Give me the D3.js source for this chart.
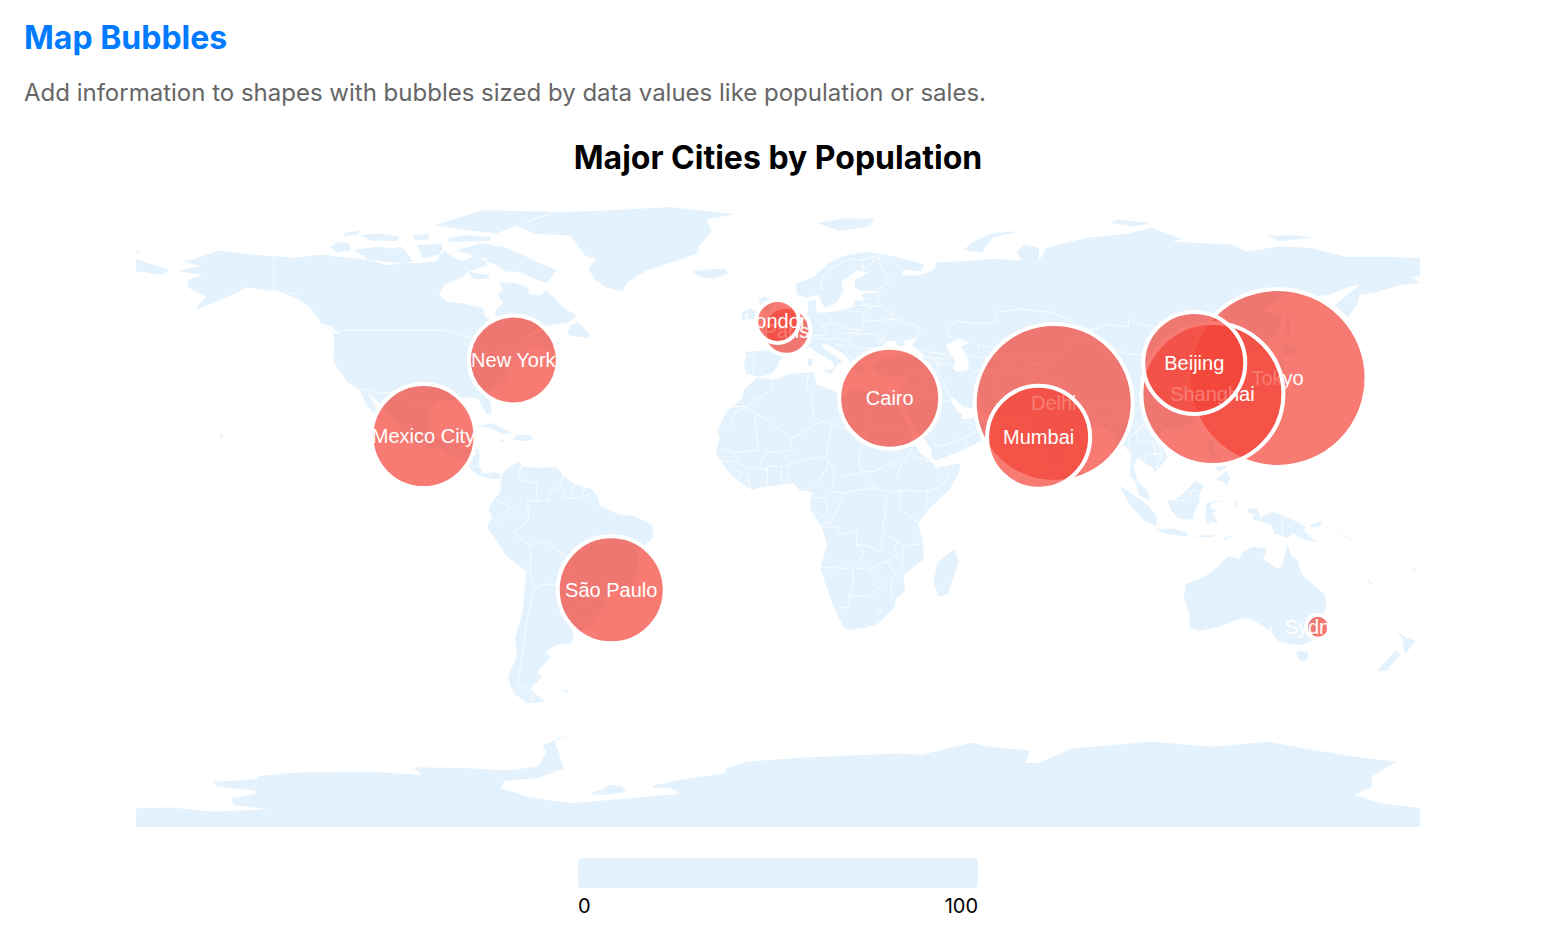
<!DOCTYPE html>
<html>
<head>
<meta charset="utf-8">
<title>Map Bubbles</title>
<script src="https://cdn.jsdelivr.net/npm/d3@7"></script>
<style>
  html, body { margin: 0; background: #fff; }
  text { font-family: Inter, sans-serif; }
</style>
</head>
<body>
<svg id="chart" width="1552" height="930"></svg>
<script>
// cities, drawn in this order so later bubbles sit on top of earlier labels
const cities = ["Tokyo", "Delhi", "Shanghai", "São Paulo", "Mexico City", "Cairo", "Mumbai", "Beijing", "New York", "Paris", "London", "Sydney"];
const cityLon = [139.69, 77.1, 121.47, -46.63, -99.13, 31.24, 72.88, 116.4, -74.0, 2.35, -0.13, 151.0];
const cityLat = [35.69, 28.7, 31.23, -23.55, 19.43, 30.04, 19.08, 39.9, 40.71, 48.86, 51.51, -33.87];
const population = [35.6, 31.6, 28.4, 21.4, 20.8, 20.2, 20.6, 20.4, 17.8, 9.6, 8.6, 4.8];
const legendLabels = [0, 100];

// coast outlines, [lon, lat]
const northAmerica = [[-168,65.6],[-164,66.5],[-162,67],[-166,68.3],[-163,69],[-156.5,71.3],[-150,70.5],[-141,69.7],[-135,69.3],[-128,70.2],[-124,69.7],[-115,68.8],[-108,68],[-102,67.8],[-96,68.2],[-95,69],[-94,71.8],[-91,69.5],[-88,68.3],[-85.5,69.7],[-81.5,69],[-81.5,67],[-87,65.3],[-88,64],[-93,61.8],[-94.8,59],[-92.5,57],[-88,56.5],[-82.5,55.2],[-82,53],[-80,51.3],[-79,51.8],[-79,54.7],[-76.8,56.5],[-78.3,58.8],[-77,60.5],[-78,62.4],[-73.5,62.3],[-70,61],[-69.5,59],[-66.5,58.8],[-64.8,60.3],[-62,57.5],[-60,55.3],[-56,53],[-58.5,51.3],[-65,50.2],[-68,48.8],[-71,46.8],[-65,49],[-65,47.5],[-61,45.5],[-65.5,43.6],[-66,45],[-67,45],[-70,43.7],[-70.8,42],[-74,40.6],[-75.5,38],[-76,35],[-78,33.8],[-81,31.8],[-80,26.8],[-80.4,25.2],[-81.8,26],[-82.8,28],[-84,30],[-88,30.3],[-90,29.2],[-94,29.6],[-97.3,27.5],[-97.7,22.5],[-95.5,18.8],[-92,18.6],[-90.5,21],[-87,21.5],[-88,18.5],[-88.8,15.9],[-84,15.9],[-83.4,14.9],[-83.7,11],[-82,9],[-79.5,9.5],[-77.3,8.7],[-78,7.3],[-80,7.5],[-81.5,7.8],[-83.5,8.3],[-85.8,10],[-87.5,13],[-91.5,14],[-94.5,16.2],[-97,15.9],[-101.5,17.5],[-105.5,20],[-105.5,22.5],[-109,26],[-112.8,30],[-114.7,31.7],[-112.5,27.5],[-111,25],[-109.5,23],[-112,25],[-115,28],[-117.1,32.5],[-120.5,34.5],[-122.5,37.5],[-124.3,40.3],[-124,46.2],[-124.7,48.4],[-122.5,48],[-125,50.3],[-127.8,51],[-130,54.3],[-133,57],[-136,58.5],[-140,59.8],[-146,60.7],[-149,61],[-151.5,59.3],[-152,59],[-154,58.5],[-158,56.5],[-163,54.8],[-160,58.5],[-162,59.5],[-165,61],[-165,63],[-161,64.5]];
const southAmerica = [[-77.3,8.7],[-75,11],[-72,12.2],[-71.5,10.9],[-68,10.6],[-62,10.7],[-60,8.4],[-57,6],[-52,4.5],[-50,1.7],[-50,0],[-44.5,-2.5],[-40,-3],[-35,-5.5],[-35,-9],[-39,-13],[-39,-18],[-41,-22],[-44.5,-23.2],[-48.5,-26],[-48.7,-28.5],[-53,-33.5],[-55,-35],[-58,-34],[-57,-36.5],[-58,-38.5],[-62,-39],[-65,-41],[-63.5,-42.5],[-66,-45],[-67.5,-46.5],[-66,-48],[-69,-51],[-68,-52.5],[-65,-54.8],[-70,-55.3],[-74,-52.5],[-75.5,-48],[-73,-42],[-73.5,-37],[-71.5,-30],[-70.3,-18.5],[-76,-14],[-81.3,-6],[-80,-3],[-81,-1],[-80,1],[-77.5,4],[-77.5,7]];
const africa = [[-5.9,35.8],[-1,35.2],[3,36.8],[10,37.3],[11,33.2],[10.5,34],[15,32.3],[19,30.3],[20,32.8],[25,31.6],[32,31.2],[34.2,31.3],[32.6,29.9],[34,26.5],[37,21],[37.5,18.5],[39.5,15],[43.2,12],[44,10.5],[51.2,11.9],[50.5,9],[48,4.5],[42,-1],[39.2,-5],[40.5,-10.5],[40.8,-15],[35,-19.5],[35.5,-24],[33,-26],[32.5,-28.5],[28,-33],[25,-34],[20,-34.8],[18.3,-34],[15,-27],[11.8,-17.5],[13.7,-11],[12.2,-6],[9,-1],[9.5,3.8],[6,4.3],[4.5,6.3],[1,5.9],[-4,5.2],[-7.6,4.4],[-13,8.5],[-15,11],[-17.3,14.7],[-16.3,19],[-17,21],[-14.5,26],[-10,30],[-9.5,32.5]];
const eurasia = [[-9,37],[-9.5,38.8],[-9,43],[-2,43.5],[-1.2,46],[-4.5,48.3],[-1.5,48.7],[-1.5,49.7],[1.5,50.5],[4,52],[8.5,54],[8.2,57],[10.5,57.7],[10.5,54.5],[11,54],[14,54],[18.5,54.7],[21,55.5],[21.5,57.5],[24,57.2],[23.5,59.2],[30,60],[23,60],[21.5,61],[21.5,63],[25.3,65.2],[22,65.8],[17.5,62.5],[18.5,60],[16.5,57],[14,55.5],[12.8,55.5],[11.2,59],[8,58],[5.3,59],[5,62],[10,64],[14.5,68],[19,70],[25,71],[31,70],[41,67.5],[40,65.5],[35,66],[34.8,64.5],[38,64.2],[40.5,64.7],[44,66.2],[44,68],[54,68.5],[60,69],[68,68.5],[66.8,71],[69,73],[73,72],[73,68.5],[75,72],[80.5,73.5],[87,75],[98,76],[104.5,77.7],[113,74.5],[110,73.8],[127,73],[131,71],[140,72.5],[149,72],[159,69.5],[170,69.6],[180,69.2],[180,64],[177,64],[179.5,62.3],[174,61.7],[167.5,59.7],[162.7,58.9],[161.8,56],[159.4,52.7],[155.7,56],[162.7,61.7],[159,61],[154.3,58.9],[151,58.6],[142.5,59.3],[135.5,54.7],[141,53],[140,48],[135,43.5],[131,42.8],[129.5,41],[127.5,39.7],[129.3,37],[129,35.2],[126.5,34.5],[126.5,37.7],[125,38.5],[124.5,39.8],[121.5,39],[121.5,40.8],[118,39],[119,37.5],[122.5,37],[119.5,35],[121.8,31.5],[121.5,28.5],[117,23.5],[110.5,21],[108,21.5],[106,19],[109,13.5],[106.5,10.5],[105,8.8],[105,10.3],[100.5,13.5],[99.5,11],[100.5,7],[103.4,4],[104,1.3],[101,3],[100,6.5],[98.3,8.5],[98.6,14],[97,16.8],[94.5,16],[94.5,18.5],[92,21.5],[90,22],[87,21.5],[85,19.5],[80.3,15.5],[80,12],[77.5,8],[74.8,12.5],[72.8,20],[70,21],[69,22.3],[67,24.8],[61.5,25.2],[57.5,25.7],[56.5,27],[52,27.5],[48.8,30.3],[48,29.5],[50.2,26.5],[51.5,25.3],[51.3,24.2],[54,24.2],[56.3,26.2],[56.8,24],[59.8,22.5],[57.8,19],[55,17],[52,15.7],[45,12.8],[43.3,12.7],[42.8,16],[39,21],[35,28],[34.3,31.3],[36,36],[32.5,36],[28,36.5],[26.5,39],[29,41],[35,42],[41.5,41.5],[37.5,44.7],[39,47],[35,46],[36,45],[33.5,44.5],[33,46],[30.5,46],[28,43],[28,41.5],[26,40.8],[23,40.3],[24,38],[22.5,36.5],[21,38.5],[19.5,41],[19,42],[14,45],[12.3,45.3],[12.5,44],[16,41.8],[18.5,40],[16.5,39.7],[16,38],[15.5,40],[10.5,43],[8.8,44.4],[6,43],[3.2,43],[0,40],[-0.3,38.7],[-2,36.7],[-5.5,36]];
const australia = [[114,-22],[113.5,-26],[115,-30],[115,-34.3],[118,-35],[123.5,-33.9],[129,-31.7],[131.5,-31.5],[134.5,-33],[137.5,-35.1],[138,-33],[138,-35.5],[140,-38],[143.5,-38.8],[146.5,-39],[150,-37.5],[151.5,-33],[153.3,-28],[153,-25],[149.5,-22],[146.3,-19],[145.3,-15],[143.5,-14],[142.5,-10.8],[141.7,-13.5],[141,-17],[139.5,-17.5],[135.7,-15],[136.8,-12],[132.5,-11.5],[130,-13],[129,-15],[126,-14],[122,-18],[119,-20]];
const antarctica = [[-180,-90],[-179.6,-84.6],[-169.6,-84.4],[-157.9,-85.6],[-142.8,-84.9],[-152,-83.7],[-153,-81.8],[-146,-80.6],[-146.2,-79.7],[-156.7,-78.6],[-157.9,-77.3],[-146.2,-76.5],[-145,-75.6],[-134.6,-74.6],[-113.6,-74.4],[-99.6,-75.3],[-102,-73.2],[-88,-73.3],[-76.3,-74.1],[-67,-73],[-64.7,-68.8],[-65.9,-67],[-57.7,-63.7],[-62.4,-66],[-61.2,-69.3],[-60,-73.5],[-67,-76.2],[-76.3,-76.9],[-77.5,-79],[-69.4,-81.6],[-57.7,-83.2],[-41.4,-81.8],[-27.4,-80.6],[-29.7,-79],[-34.9,-79],[-34.4,-78.1],[-27.4,-76.7],[-14.6,-74.8],[-14.6,-73.5],[-8.8,-71.6],[8.7,-70.4],[33.2,-69.3],[40.2,-69.7],[54.1,-66.3],[58.8,-67.4],[70.4,-68.5],[69.3,-72],[72.8,-72],[82.1,-67.9],[104.2,-66],[121.7,-67.4],[136.9,-66],[147.3,-67.9],[161.3,-70.2],[173,-71.6],[166,-75.8],[166,-78.6],[161.3,-80.9],[168.3,-83.2],[180,-84.6],[180,-90]];
const islands = [
  [[-73,78.2],[-68,76],[-58,75.5],[-54,70],[-51,69],[-53,66],[-51,63],[-48,61],[-43.5,60],[-42,62.5],[-37,65.7],[-30,68],[-22.5,70.5],[-22,72.5],[-20,75],[-18.5,77],[-20,80],[-12,81.5],[-30,83.5],[-48,82.5],[-62,82],[-68,80.5]],
  [[-89.9,71.4],[-83.3,73.3],[-76.8,72.4],[-71.2,70],[-68.4,68.6],[-61.9,65.8],[-64.7,62.1],[-68.4,63.5],[-72.2,65.4],[-75.9,65.4],[-79.6,67.7],[-84.3,69.6]],
  [[-95.9,78.4],[-91.7,79.8],[-82.4,82.6],[-61.9,82.1],[-73,78.4],[-78.7,76.1],[-87,77]],
  [[-118.8,71.4],[-112.2,72.4],[-107.6,71.9],[-105.2,72.4],[-102,68.2],[-109.4,67.2],[-115,68.8],[-116,70]],
  [[-125.3,72.4],[-122.9,73.7],[-119.7,73.3],[-119.7,71.4],[-123.4,70.7]],
  [[-92.7,74.7],[-88,75.6],[-80.1,75.1],[-80.6,74],[-91.7,73.7]],
  [[-101,72.8],[-94,73.3],[-93.6,70.5],[-99.2,69.1]],
  [[-116.9,75.6],[-111.3,76.1],[-105.7,75.1],[-106.6,74],[-114.1,74.2]],
  [[-122,76.1],[-116.4,77],[-117.8,75.6],[-121,75.4]],
  [[-102,75.6],[-97.3,76.1],[-97.8,74.4],[-101.5,74.2]],
  [[-87,65.5],[-81,64.5],[-80.5,63.5],[-85,63.2]],
  [[-59,47.7],[-53,46.8],[-52.8,48],[-56,51.5],[-58,50.5]],
  [[-85,21.9],[-80,23.1],[-74.2,20.2],[-77.5,19.9],[-78,20.7],[-82,22.2]],
  [[-74.4,18.5],[-73,19.9],[-69,19.7],[-68.4,18.5],[-71,18]],
  [[-78.3,18.4],[-76.3,18.2],[-77,17.8]],
  [[-67.2,18.5],[-65.7,18.4],[-66.5,18]],
  [[-128,50.7],[-123.5,48.4],[-125,48.8]],
  [[-156,20.2],[-155,19.6],[-155.8,19]],
  [[-61,-51.8],[-58,-51.4],[-59,-52.2]],
  [[49.3,-12],[50.5,-15.5],[47.5,-24.8],[45,-25.5],[43.5,-22],[44.5,-16]],
  [[-5.5,50],[1.3,51.2],[1.7,52.8],[-1.5,55],[-2,57.6],[-4,58.5],[-5.5,57.5],[-4.5,55],[-3,53.5],[-5,52],[-3,51.3]],
  [[-10,52],[-6,52.2],[-6,54.5],[-8,55.2],[-10,54]],
  [[-24,65.5],[-22,64],[-18,63.4],[-14,64.8],[-15,66.3],[-20,66]],
  [[11,79],[17,76.8],[25,78],[27,80.2],[18,80.3]],
  [[52,71.5],[57,70.7],[60,75],[68,76.8],[60,76.2],[54,73.5]],
  [[95,80],[104,79],[100,78],[93,79]],
  [[137,75.5],[145,75.5],[150,75],[140,74]],
  [[-180,71.5],[-178,71],[-180,70.9]],
  [[180,71.5],[178.5,71],[180,70.9]],
  [[-180,69],[-175,67.5],[-170,66],[-172.5,64.5],[-178,65.5],[-180,65]],
  [[142.5,54.3],[143.5,49.5],[142.7,46.5],[142,50]],
  [[141,41.4],[142,39.5],[140.8,35.7],[137,34.6],[135,33.6],[132,34],[131,34.5],[133,35.5],[136,36],[137,37.3],[139.8,38.7],[140,40.5]],
  [[141.7,45.4],[145.4,43.5],[143,42],[140.3,42],[141.5,43.5]],
  [[130,33.5],[131.8,33],[131,31],[130.2,31.5]],
  [[121,25],[122,24.5],[120.8,22],[120.1,23]],
  [[108.7,19.3],[110.5,20],[111,19.5],[109.5,18.2]],
  [[80,9.8],[82,7.5],[80.5,6],[79.8,8]],
  [[12.5,38],[15.6,38.2],[15.1,36.7]],
  [[8.2,41],[9.7,41],[9.5,39.1],[8.5,39]],
  [[32.3,35],[34.5,35.6],[33.5,34.7]],
  [[95.3,5.6],[98,4],[103,0.5],[106,-3],[105.8,-5.8],[102.3,-4],[98.5,0]],
  [[105.3,-6.5],[108.5,-6.6],[111,-6.5],[114.5,-7.7],[114.5,-8.7],[108,-7.8]],
  [[109,1.5],[111,1.7],[113,3.2],[116.8,7],[119.2,5.2],[117.8,3.5],[117.8,1],[116.5,-1.5],[116,-4],[111.8,-3.5],[110,-1.5]],
  [[119.8,0.8],[124.8,1.5],[121,0.5],[121,-1],[123,-1],[121.5,-2],[123,-5],[121,-4.5],[120.3,-5.5],[119.5,-3.5]],
  [[120.5,18.5],[122.2,18.3],[122,16],[124,13],[121,13.7],[120,16]],
  [[122,7],[125.5,9.7],[126.5,7.5],[125.5,5.7],[124,7]],
  [[122,11.8],[125,12.5],[125.3,10.5],[123,9.5]],
  [[131,-0.8],[134,-0.8],[135,-3.3],[138,-1.7],[141,-2.6],[145,-4.5],[147.5,-6],[147,-7],[150.8,-10.3],[147,-9.5],[144,-7.7],[142.5,-9.2],[138.7,-7.7],[138,-5.5],[135,-4.3],[133,-4],[132.8,-2.8],[134,-2.3],[132,-2.3]],
  [[124,-10],[127,-8.5],[125,-8.8]],
  [[116,-8.5],[119,-8.3],[123,-8.3],[120,-8.9]],
  [[127.5,1.8],[128.5,0],[128,-0.8]],
  [[148.5,-5.6],[152,-4.2],[152,-5.5],[150,-6.2]],
  [[155,-6.5],[156,-7],[160.5,-9.5],[161.5,-10.5]],
  [[178,-17.5],[178.7,-18],[177.3,-18.2]],
  [[164,-20.2],[167,-22.3],[165.5,-21.8]],
  [[144.7,-40.7],[148.3,-40.8],[148,-43],[146,-43.5],[145.3,-42]],
  [[172.7,-34.5],[175.5,-37],[178.3,-37.7],[177,-39.5],[175.3,-41.6],[174.8,-39],[174.7,-37.3]],
  [[172.7,-40.6],[174.2,-41.7],[171,-45],[170.5,-46],[167.5,-46.3],[170,-43.5]],
  [[-53,-80.6],[-49.5,-79.5],[-47.2,-78.1],[-43.7,-78.4],[-42.5,-80],[-48.3,-80.9]]
];
// inland water, cut out with evenodd
const lakes = [
  [[47,45],[51,46.8],[53.5,45.5],[51,44.5],[53,41.5],[53.5,38],[50,37.3],[49,38.5],[49.5,40.5],[47.7,43]]
];
const borderLines = [
  [[-123,49],[-95,49],[-95,49.4],[-89.5,48],[-84.5,46.5],[-82.5,45],[-82.5,42.5],[-79,43],[-76.5,44],[-74.7,45],[-71,45.2],[-69.2,47.4],[-67.8,47],[-67,45]],
  [[-141,69.7],[-141,60.3],[-137.5,59],[-135,59.5],[-133,56.5],[-130,55]],
  [[-117.1,32.5],[-114.8,32.5],[-111,31.3],[-106.5,31.8],[-103,29],[-101,29.8],[-97.2,25.9]],
  [[-92.2,14.6],[-91,17],[-89.2,17.8],[-88.3,18.5]],
  [[-89.2,17.8],[-89.2,15.9]],
  [[-88.6,15.7],[-89.4,14.4],[-90,13.8]],
  [[-83.2,15],[-86,13.9],[-87.4,13]],
  [[-85.7,11.1],[-83.7,10.9]],
  [[-83,8.3],[-82.6,9.6]],
  [[-77.3,8.7],[-77.9,7.2]],
  [[-71.5,11.8],[-72.5,9],[-72,7],[-67.5,6.2],[-67.5,3],[-67,1.2],[-70,1.5],[-69.8,-4.2]],
  [[-78.8,1.4],[-75.3,0],[-72,-2.4],[-69.9,-4.2]],
  [[-80.2,-3.5],[-78.5,-5],[-75.3,-1.5],[-75.3,0]],
  [[-60,8.5],[-61,5],[-60,5.2]],
  [[-67,1.2],[-64,1.5],[-64,4],[-60.8,5]],
  [[-60,5.2],[-59.8,2],[-57,2]],
  [[-57,6],[-58,2]],
  [[-54,5.8],[-54.5,2.3]],
  [[-58,2],[-54.5,2.3],[-52,3.5]],
  [[-69.9,-4.2],[-73,-7],[-74,-7.5],[-71,-10],[-69.5,-11]],
  [[-69.5,-11],[-65.3,-10],[-60,-13.5],[-58,-16.5],[-58,-20]],
  [[-69.5,-11],[-69,-15.5],[-69.5,-17.5],[-68,-23]],
  [[-68,-23],[-65,-22],[-62.6,-22],[-58,-20]],
  [[-62.6,-22],[-58,-25],[-55,-27.2]],
  [[-58,-20],[-58,-22],[-55.5,-24],[-54.5,-25.5]],
  [[-54.5,-25.5],[-53.7,-27],[-57.6,-30.2]],
  [[-57.6,-30.2],[-53.4,-33.7]],
  [[-57.6,-30.2],[-58.4,-34]],
  [[-68,-23],[-70,-31],[-71,-38],[-72,-45],[-73,-50],[-69,-52],[-68.6,-55]],
  [[-2,35],[-1.5,32.5],[-8.7,28],[-8.7,27.3]],
  [[-13,27.7],[-8.7,27.7]],
  [[-8.7,27.3],[-12,26],[-13,23],[-17,21]],
  [[-8.7,27.3],[-4.8,25],[-6.5,25],[-5.5,15.5],[-12,15],[-16.5,16]],
  [[-4.8,25],[1,21],[3.3,19],[4.2,19],[12,23.5]],
  [[8.5,37],[8,33],[9.5,30.2],[10,25],[12,23.5],[15,23],[24,19.5],[25,20],[25,22]],
  [[25,31.6],[25,22],[36.8,22]],
  [[24,19.5],[22.5,13],[23.5,9]],
  [[15,23],[13.5,14]],
  [[3.6,11.7],[8,13],[13.5,13.7]],
  [[3.3,19],[4,15.5],[1,15],[3.6,11.7]],
  [[1,15],[-3,15],[-5.5,10.5]],
  [[-3,11],[1,11],[3,11.7]],
  [[-3,11],[-3,5.2]],
  [[1,11],[1,6]],
  [[3,11.7],[2.7,6.4]],
  [[8.5,4.5],[11,6.5],[13.5,10.5],[14,13]],
  [[14,13],[15.5,9.5],[15.5,7.5],[18.5,8.5],[23.5,9]],
  [[23.5,9],[27.5,5],[22,4.3],[18.5,3.5],[15,4],[15.5,7.5]],
  [[9.8,2.2],[13.3,2.2],[14,-2],[11.5,-3.7]],
  [[18.5,3.5],[16.5,-1],[15,-4.5],[12.2,-5]],
  [[38.5,18],[36.5,14.3],[34,10.5],[33,8]],
  [[23.5,9.5],[27,9.5],[32,12],[34,10]],
  [[27.5,5],[31,3.7],[34,4.2],[36,4.4]],
  [[34,4.2],[41,4],[42,4.2]],
  [[43.2,11.5],[48,8],[45,5],[42,4.2],[41,-1.7]],
  [[36.5,14.3],[43,12.3]],
  [[34,4.2],[34,-1],[39.3,-4.7]],
  [[31,3.7],[29.5,-1.3]],
  [[30.5,-1],[29.5,-4.5],[29.3,-8],[33,-9.5],[34.7,-11.5],[40.5,-10.5]],
  [[12.2,-6],[16.5,-6],[17.5,-8],[22,-7],[22,-11],[24,-11],[27,-12],[29,-13],[29,-9]],
  [[22,-11],[24,-13],[22,-16.5]],
  [[11.8,-17.3],[18.5,-17.5],[24,-17.5]],
  [[21,-18],[21,-22],[20,-24.5],[20,-28.5],[16.5,-28.6]],
  [[20,-25],[25,-25.5],[29.3,-22.3],[25.2,-17.8],[30.4,-15.7]],
  [[30.4,-15.7],[33,-19],[31.5,-22.3],[32,-26.5]],
  [[33,-9.5],[33,-14],[35,-17],[35,-11.5]],
  [[30.4,-15.7],[33,-14]],
  [[27.5,-29.5],[29,-29],[28.5,-30.5],[27.2,-30.2],[27.5,-29.5]],
  [[-16.7,12.4],[-11.5,12.4],[-12,15]],
  [[-13,9],[-10.8,10],[-10.3,8.5],[-11.5,7]],
  [[-8.5,7.5],[-7.5,4.4]],
  [[-11.5,12.4],[-8,10],[-8.5,7.5]],
  [[-8,10.3],[-5.5,10.5],[-3,10]],
  [[-8.8,42],[-6.5,41.5],[-7,37.2]],
  [[-1.8,43.4],[3,42.4]],
  [[2.5,51],[6,49.5],[8,49],[7.5,47.6],[6,46.3],[7.5,43.8]],
  [[7,53.3],[6,50.8],[6,49.5]],
  [[8.7,54.9],[9.8,54.8]],
  [[14.2,53.9],[15,51],[12.2,50.3]],
  [[7.5,47.6],[13,47.5],[13.8,48.7],[12.2,50.3]],
  [[15,51],[19,49.5],[22.8,49]],
  [[23.5,54],[24,50.5],[22.8,49]],
  [[19.5,54.4],[23,54.3]],
  [[7.5,43.8],[7,46],[10.5,47],[13.7,46.5],[13.7,45.6]],
  [[13.7,46.5],[16.5,46.7],[17,48],[19,48],[22.8,48.5]],
  [[16.5,46.7],[19,46],[22,47.8],[26.5,48.2],[29.7,45.3]],
  [[22.5,44.2],[28.5,43.8]],
  [[19,46],[22.5,44.2],[22.5,41.5]],
  [[20.5,40],[26.5,41.5],[28,42]],
  [[22.8,41.3],[28,42]],
  [[16,45],[19,44.8],[19,42.5]],
  [[19.5,42.5],[20.5,41],[20.2,39.7]],
  [[24,51.5],[31,52],[34,52],[40,49.6],[38.5,47.2]],
  [[23.5,53.5],[26,55.5],[28.5,56],[32.5,53.3],[31,52]],
  [[21,56],[26,56],[28,56],[28,59.5]],
  [[24.5,57.9],[27.5,57.5]],
  [[26.5,48.2],[29,47.5],[30,46],[28.2,45.5]],
  [[23.5,65.8],[29,70],[28,69],[30,65],[31.5,62.8],[28,60.5]],
  [[12.3,60],[12,63],[15,66.5],[20,69],[23.5,68.7],[28,70]],
  [[24,66],[23.5,68.7]],
  [[36,36.2],[42,37],[44.7,37.2],[44.5,39.7],[43.5,41.2],[41.5,41.5]],
  [[42,37],[41,34.3],[39,32.5]],
  [[35.8,32.7],[39,32.5],[37,31.5],[35,29.5]],
  [[39,32.5],[44,29.2],[46.5,29],[48,29.5]],
  [[44.7,37.2],[46,35.5],[47.7,31],[48.5,30]],
  [[43,16.6],[47,17],[52,19],[55,20],[56,22.5],[52,23.5]],
  [[52,19],[53,16.7]],
  [[40,43.5],[48.5,41.8]],
  [[41.5,41.5],[46,41],[44.5,39.7],[48,39.5],[49,38.3]],
  [[54,37.3],[57,38],[61,36.5],[61,31.5],[63,27],[61.5,25.2]],
  [[47.5,50],[50,51.5],[55,51],[61,51],[61,54],[68,55],[71,54.5],[77,54],[83,51],[87.5,49]],
  [[47.5,50],[47,48.2],[49,46.5]],
  [[53,42],[56,41.3],[56,45],[61,44],[66,41],[70,42],[71,42.8],[80,42.8],[80.5,45],[85.5,47],[87.5,49]],
  [[56,41.3],[61,41.5],[66,38]],
  [[61,36.5],[66,37.3],[71,38],[74.9,37.3]],
  [[61,29.5],[66,29.8],[70,33],[71.5,36],[74.9,37.3]],
  [[70,42],[71,40],[73.5,39.5],[80,42]],
  [[68,39],[73.5,39.5],[74.9,37.3]],
  [[74.9,37.3],[78,35],[79,32],[81,30],[88,28],[92,28],[97,28],[98.7,25],[97.5,23.5],[101,21.5],[102,22.5],[106,22.8],[108,21.6]],
  [[74.9,34],[75,31],[70,27],[71,24.5],[68.2,23.7]],
  [[81,30],[80,28.8],[88,26.5],[88,28]],
  [[88.2,26],[89,22]],
  [[89,25],[92,25],[92.5,21]],
  [[97,28],[94,24],[92.5,21]],
  [[101,21.5],[98,19],[98.6,14],[99,10.5]],
  [[100,20],[102,22.5],[104.5,20],[107,16],[107,14.5],[105.5,14.3],[105,18],[101,18],[100,20]],
  [[102.5,12],[103,14.3],[107.5,14.5],[106,11],[104.5,10.4]],
  [[100.2,6.5],[102,6.2]],
  [[87.5,49],[92,50.7],[98,50],[98,52],[103,50.3],[107,49.7],[114,50],[119,49.8],[116,48],[112,45],[105,42],[97,42.5],[91,45],[87.5,49]],
  [[119,49.8],[120,53.3],[125,53],[130,49],[135,48.4],[131,45],[131,42.8]],
  [[124.5,39.9],[128,41.5],[130.5,42.5]],
  [[125,38],[128.3,38.6]],
  [[109.7,1.9],[114,1.2],[116,4.2],[117.7,4.2]],
  [[141,-2.6],[141,-9.1]]
];

const svg = d3.select("#chart");

svg.append("text").attr("x", 24).attr("y", 49).attr("font-size", 32).attr("font-weight", 700)
    .attr("fill", "#007bff").text("Map Bubbles");
svg.append("text").attr("x", 24).attr("y", 101).attr("font-size", 24).attr("fill", "#666")
    .text("Add information to shapes with bubbles sized by data values like population or sales.");
svg.append("text").attr("x", 778).attr("y", 169).attr("text-anchor", "middle").attr("font-size", 32)
    .attr("font-weight", 700).attr("fill", "#000").text("Major Cities by Population");

const projection = d3.geoEquirectangular().scale(204.9).translate([778, 505.6]);
// planar pass so ring winding does not matter
const flat = d3.geoTransform({
    point(x, y) {
        const p = projection([x, y]);
        this.stream.point(p[0], p[1]);
    }
});
const path = d3.geoPath(flat);
const radius = d3.scaleLinear().domain([0, 40]).range([0, 100]);

const rings = [northAmerica, southAmerica, africa, eurasia, australia, antarctica].concat(islands, lakes);

svg.append("clipPath").attr("id", "map-clip").append("rect")
    .attr("x", 136).attr("y", 200).attr("width", 1284).attr("height", 627);

const map = svg.append("g").attr("clip-path", "url(#map-clip)");
map.append("path")
    .datum({type: "MultiPolygon", coordinates: rings.map(r => [r.concat([r[0]])])})
    .attr("d", path)
    .attr("fill", "#e3f2fd")
    .attr("fill-rule", "evenodd");
map.append("path")
    .datum({type: "MultiLineString", coordinates: borderLines})
    .attr("d", path)
    .attr("fill", "none")
    .attr("stroke", "#fff")
    .attr("stroke-width", 0.8);

// one group per city: the circle and its label share the stacking order
const bubbles = svg.selectAll("g.city")
    .data(cities.map((name, i) => ({name, lon: cityLon[i], lat: cityLat[i], value: population[i]})))
    .join("g")
    .attr("class", "city")
    .attr("transform", d => `translate(${projection([d.lon, d.lat])})`);

bubbles.append("circle")
    .attr("r", d => radius(d.value))
    .attr("fill", "rgba(244,67,54,0.7)")
    .attr("stroke", "#fff")
    .attr("stroke-width", 4);

bubbles.append("text")
    .attr("text-anchor", "middle")
    .attr("dy", "0.35em")
    .attr("font-size", 20)
    .attr("fill", "#fff")
    .style("font-family", "'Liberation Sans', Arial, sans-serif")
    .text(d => d.name);

// legend
const legendScale = d3.scaleLinear().domain(legendLabels).range([578, 978]);
svg.append("rect")
    .attr("x", legendScale(0)).attr("y", 858)
    .attr("width", legendScale(100) - legendScale(0)).attr("height", 30)
    .attr("rx", 4).attr("fill", "#e3f2fd");
svg.selectAll("text.legend")
    .data(legendLabels)
    .join("text")
    .attr("class", "legend")
    .attr("x", d => legendScale(d))
    .attr("y", 913)
    .attr("text-anchor", (d, i) => i ? "end" : "start")
    .attr("font-size", 20)
    .attr("fill", "#000")
    .text(d => d);
</script>
</body>
</html>
